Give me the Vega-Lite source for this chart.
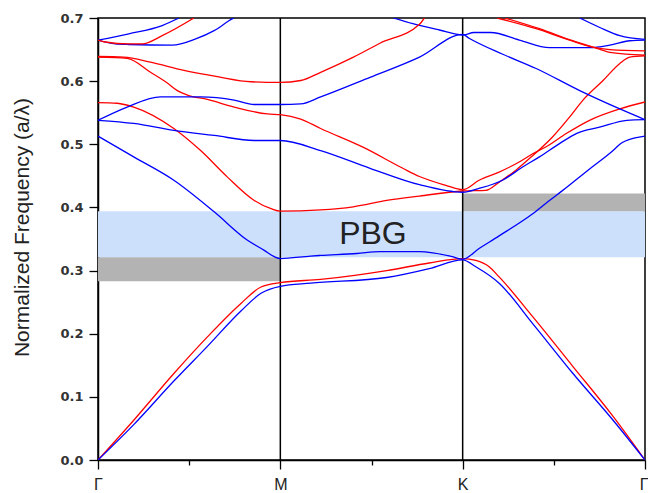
{
  "$schema": "https://vega.github.io/schema/vega-lite/v6.json",
  "width": 547,
  "height": 442,
  "autosize": "none",
  "padding": {"left": 98, "top": 18, "right": 3, "bottom": 33},
  "background": "white",
  "config": {
    "view": {"stroke": "black", "strokeWidth": 1.5},
    "axis": {"grid": false, "domainColor": "black", "domainWidth": 1.5, "tickColor": "black", "tickWidth": 1.3}
  },
  "resolve": {"scale": {"color": "independent"}},
  "datasets": {
    "bands": [
      {"x": 0, "x2": 3, "y": 0.321, "y2": 0.394, "k": "pbg"},
      {"x": 0, "x2": 1, "y": 0.283, "y2": 0.321, "k": "g"},
      {"x": 2, "x2": 3, "y": 0.394, "y2": 0.422, "k": "g"}
    ],
    "vlines": [{"x": 1}, {"x": 2}],
    "label": [{"x": 1.508, "y": 0.3426, "t": "PBG"}],
    "lines": [
      {"b":"r1","p":"r","x":0,"y":0},{"b":"r1","p":"r","x":0.196,"y":0.063},{"b":"r1","p":"r","x":0.416,"y":0.137},{"b":"r1","p":"r","x":0.6,"y":0.195},{"b":"r1","p":"r","x":0.784,"y":0.248},{"b":"r1","p":"r","x":0.894,"y":0.274},{"b":"r1","p":"r","x":1.0,"y":0.281},{"b":"r1","p":"r","x":1.221,"y":0.286},{"b":"r1","p":"r","x":1.583,"y":0.3},{"b":"r1","p":"r","x":1.817,"y":0.312},{"b":"r1","p":"r","x":2.0,"y":0.319},{"b":"r1","p":"r","x":2.072,"y":0.316},{"b":"r1","p":"r","x":2.145,"y":0.306},{"b":"r1","p":"r","x":2.2,"y":0.29},{"b":"r1","p":"r","x":2.384,"y":0.227},{"b":"r1","p":"r","x":2.605,"y":0.148},{"b":"r1","p":"r","x":2.825,"y":0.069},{"b":"r1","p":"r","x":3.0,"y":0.0},
      {"b":"b1","p":"b","x":0,"y":0},{"b":"b1","p":"b","x":0.196,"y":0.056},{"b":"b1","p":"b","x":0.416,"y":0.125},{"b":"b1","p":"b","x":0.6,"y":0.18},{"b":"b1","p":"b","x":0.784,"y":0.236},{"b":"b1","p":"b","x":0.894,"y":0.264},{"b":"b1","p":"b","x":1.0,"y":0.275},{"b":"b1","p":"b","x":1.166,"y":0.28},{"b":"b1","p":"b","x":1.583,"y":0.289},{"b":"b1","p":"b","x":1.817,"y":0.303},{"b":"b1","p":"b","x":2.0,"y":0.317},{"b":"b1","p":"b","x":2.072,"y":0.306},{"b":"b1","p":"b","x":2.2,"y":0.28},{"b":"b1","p":"b","x":2.384,"y":0.216},{"b":"b1","p":"b","x":2.605,"y":0.137},{"b":"b1","p":"b","x":2.825,"y":0.063},{"b":"b1","p":"b","x":3.0,"y":0.0},
      {"b":"b2","p":"b","x":0,"y":0.513},{"b":"b2","p":"b","x":0.196,"y":0.48},{"b":"b2","p":"b","x":0.416,"y":0.443},{"b":"b2","p":"b","x":0.637,"y":0.393},{"b":"b2","p":"b","x":0.82,"y":0.348},{"b":"b2","p":"b","x":0.912,"y":0.332},{"b":"b2","p":"b","x":0.967,"y":0.322},{"b":"b2","p":"b","x":1.0,"y":0.319},{"b":"b2","p":"b","x":1.166,"y":0.323},{"b":"b2","p":"b","x":1.221,"y":0.324},{"b":"b2","p":"b","x":1.42,"y":0.327},{"b":"b2","p":"b","x":1.546,"y":0.33},{"b":"b2","p":"b","x":1.763,"y":0.33},{"b":"b2","p":"b","x":1.944,"y":0.322},{"b":"b2","p":"b","x":2.0,"y":0.318},{"b":"b2","p":"b","x":2.09,"y":0.335},{"b":"b2","p":"b","x":2.2,"y":0.355},{"b":"b2","p":"b","x":2.384,"y":0.39},{"b":"b2","p":"b","x":2.476,"y":0.411},{"b":"b2","p":"b","x":2.549,"y":0.427},{"b":"b2","p":"b","x":2.696,"y":0.461},{"b":"b2","p":"b","x":2.825,"y":0.49},{"b":"b2","p":"b","x":2.862,"y":0.5},{"b":"b2","p":"b","x":2.945,"y":0.51},{"b":"b2","p":"b","x":3.0,"y":0.513},
      {"b":"r2","p":"r","x":0,"y":0.566},{"b":"r2","p":"r","x":0.105,"y":0.565},{"b":"r2","p":"r","x":0.196,"y":0.559},{"b":"r2","p":"r","x":0.416,"y":0.525},{"b":"r2","p":"r","x":0.563,"y":0.49},{"b":"r2","p":"r","x":0.71,"y":0.448},{"b":"r2","p":"r","x":0.857,"y":0.411},{"b":"r2","p":"r","x":0.949,"y":0.398},{"b":"r2","p":"r","x":1.0,"y":0.394},{"b":"r2","p":"r","x":1.221,"y":0.396},{"b":"r2","p":"r","x":1.4,"y":0.401},{"b":"r2","p":"r","x":1.583,"y":0.411},{"b":"r2","p":"r","x":1.763,"y":0.418},{"b":"r2","p":"r","x":2.0,"y":0.426},{"b":"r2","p":"r","x":2.127,"y":0.427},{"b":"r2","p":"r","x":2.2,"y":0.44},{"b":"r2","p":"r","x":2.292,"y":0.459},{"b":"r2","p":"r","x":2.384,"y":0.482},{"b":"r2","p":"r","x":2.494,"y":0.512},{"b":"r2","p":"r","x":2.586,"y":0.543},{"b":"r2","p":"r","x":2.66,"y":0.57},{"b":"r2","p":"r","x":2.77,"y":0.601},{"b":"r2","p":"r","x":2.862,"y":0.628},{"b":"r2","p":"r","x":2.917,"y":0.638},{"b":"r2","p":"r","x":3.0,"y":0.64},
      {"b":"r3","p":"r","x":0,"y":0.638},{"b":"r3","p":"r","x":0.16,"y":0.636},{"b":"r3","p":"r","x":0.288,"y":0.614},{"b":"r3","p":"r","x":0.38,"y":0.597},{"b":"r3","p":"r","x":0.435,"y":0.585},{"b":"r3","p":"r","x":0.49,"y":0.578},{"b":"r3","p":"r","x":0.6,"y":0.571},{"b":"r3","p":"r","x":0.747,"y":0.559},{"b":"r3","p":"r","x":0.93,"y":0.548},{"b":"r3","p":"r","x":1.0,"y":0.547},{"b":"r3","p":"r","x":1.112,"y":0.54},{"b":"r3","p":"r","x":1.221,"y":0.525},{"b":"r3","p":"r","x":1.456,"y":0.495},{"b":"r3","p":"r","x":1.672,"y":0.462},{"b":"r3","p":"r","x":1.763,"y":0.449},{"b":"r3","p":"r","x":1.908,"y":0.435},{"b":"r3","p":"r","x":2.0,"y":0.428},{"b":"r3","p":"r","x":2.09,"y":0.443},{"b":"r3","p":"r","x":2.2,"y":0.456},{"b":"r3","p":"r","x":2.31,"y":0.472},{"b":"r3","p":"r","x":2.384,"y":0.485},{"b":"r3","p":"r","x":2.458,"y":0.496},{"b":"r3","p":"r","x":2.568,"y":0.517},{"b":"r3","p":"r","x":2.696,"y":0.538},{"b":"r3","p":"r","x":2.862,"y":0.556},{"b":"r3","p":"r","x":3.0,"y":0.567},
      {"b":"b3","p":"b","x":0,"y":0.538},{"b":"b3","p":"b","x":0.196,"y":0.533},{"b":"b3","p":"b","x":0.416,"y":0.522},{"b":"b3","p":"b","x":0.637,"y":0.514},{"b":"b3","p":"b","x":0.857,"y":0.506},{"b":"b3","p":"b","x":1.0,"y":0.506},{"b":"b3","p":"b","x":1.221,"y":0.49},{"b":"b3","p":"b","x":1.492,"y":0.462},{"b":"b3","p":"b","x":1.763,"y":0.436},{"b":"b3","p":"b","x":2.0,"y":0.424},{"b":"b3","p":"b","x":2.09,"y":0.43},{"b":"b3","p":"b","x":2.218,"y":0.443},{"b":"b3","p":"b","x":2.329,"y":0.464},{"b":"b3","p":"b","x":2.421,"y":0.48},{"b":"b3","p":"b","x":2.531,"y":0.501},{"b":"b3","p":"b","x":2.623,"y":0.517},{"b":"b3","p":"b","x":2.751,"y":0.527},{"b":"b3","p":"b","x":2.901,"y":0.538},{"b":"b3","p":"b","x":3.0,"y":0.539},
      {"b":"b4","p":"b","x":0,"y":0.538},{"b":"b4","p":"b","x":0.16,"y":0.559},{"b":"b4","p":"b","x":0.343,"y":0.575},{"b":"b4","p":"b","x":0.563,"y":0.575},{"b":"b4","p":"b","x":0.747,"y":0.57},{"b":"b4","p":"b","x":0.857,"y":0.563},{"b":"b4","p":"b","x":1.0,"y":0.563},{"b":"b4","p":"b","x":1.112,"y":0.564},{"b":"b4","p":"b","x":1.221,"y":0.575},{"b":"b4","p":"b","x":1.492,"y":0.606},{"b":"b4","p":"b","x":1.763,"y":0.638},{"b":"b4","p":"b","x":2.0,"y":0.674},{"b":"b4","p":"b","x":2.035,"y":0.668},{"b":"b4","p":"b","x":2.217,"y":0.643},{"b":"b4","p":"b","x":2.403,"y":0.62},{"b":"b4","p":"b","x":2.642,"y":0.585},{"b":"b4","p":"b","x":2.862,"y":0.556},{"b":"b4","p":"b","x":3.0,"y":0.539},
      {"b":"b7","p":"b","x":1.619,"y":0.7},{"b":"b7","p":"b","x":1.727,"y":0.691},{"b":"b7","p":"b","x":1.872,"y":0.681},{"b":"b7","p":"b","x":2.0,"y":0.673},{"b":"b7","p":"b","x":2.062,"y":0.677},{"b":"b7","p":"b","x":2.154,"y":0.677},{"b":"b7","p":"b","x":2.311,"y":0.665},{"b":"b7","p":"b","x":2.476,"y":0.653},{"b":"b7","p":"b","x":2.697,"y":0.653},{"b":"b7","p":"b","x":2.807,"y":0.657},{"b":"b7","p":"b","x":2.917,"y":0.664},{"b":"b7","p":"b","x":3.0,"y":0.665},
      {"b":"b8","p":"b","x":2.642,"y":0.7},{"b":"b8","p":"b","x":2.752,"y":0.685},{"b":"b8","p":"b","x":2.862,"y":0.672},{"b":"b8","p":"b","x":3.0,"y":0.666},
      {"b":"ra","p":"r","x":2.189,"y":0.7},{"b":"ra","p":"r","x":2.403,"y":0.683},{"b":"ra","p":"r","x":2.586,"y":0.665},{"b":"ra","p":"r","x":2.713,"y":0.654},{"b":"ra","p":"r","x":2.807,"y":0.65},{"b":"ra","p":"r","x":3.0,"y":0.648},
      {"b":"rb","p":"r","x":2.233,"y":0.7},{"b":"rb","p":"r","x":2.421,"y":0.683},{"b":"rb","p":"r","x":2.603,"y":0.664},{"b":"rb","p":"r","x":2.735,"y":0.652},{"b":"rb","p":"r","x":2.818,"y":0.645},{"b":"rb","p":"r","x":3.0,"y":0.641},
      {"b":"b5","p":"b","x":0,"y":0.665},{"b":"b5","p":"b","x":0.169,"y":0.675},{"b":"b5","p":"b","x":0.352,"y":0.688},{"b":"b5","p":"b","x":0.444,"y":0.7},
      {"b":"b6","p":"b","x":0,"y":0.665},{"b":"b6","p":"b","x":0.095,"y":0.659},{"b":"b6","p":"b","x":0.169,"y":0.658},{"b":"b6","p":"b","x":0.407,"y":0.657},{"b":"b6","p":"b","x":0.536,"y":0.667},{"b":"b6","p":"b","x":0.637,"y":0.68},{"b":"b6","p":"b","x":0.738,"y":0.699},{"b":"b6","p":"b","x":0.745,"y":0.7},
      {"b":"r5","p":"r","x":0,"y":0.665},{"b":"r5","p":"r","x":0.04,"y":0.662},{"b":"r5","p":"r","x":0.169,"y":0.659},{"b":"r5","p":"r","x":0.242,"y":0.659},{"b":"r5","p":"r","x":0.352,"y":0.672},{"b":"r5","p":"r","x":0.526,"y":0.7},
      {"b":"r4","p":"r","x":0,"y":0.639},{"b":"r4","p":"r","x":0.141,"y":0.638},{"b":"r4","p":"r","x":0.288,"y":0.63},{"b":"r4","p":"r","x":0.471,"y":0.617},{"b":"r4","p":"r","x":0.655,"y":0.607},{"b":"r4","p":"r","x":0.838,"y":0.599},{"b":"r4","p":"r","x":1.0,"y":0.598},{"b":"r4","p":"r","x":1.112,"y":0.601},{"b":"r4","p":"r","x":1.221,"y":0.614},{"b":"r4","p":"r","x":1.401,"y":0.638},{"b":"r4","p":"r","x":1.546,"y":0.66},{"b":"r4","p":"r","x":1.763,"y":0.69},{"b":"r4","p":"r","x":1.79,"y":0.7}
    ]
  },
  "layer": [
    {
      "data": {"name": "bands"},
      "mark": {"type": "rect"},
      "encoding": {
        "x": {"field": "x", "type": "quantitative", "scale": {"domain": [0, 3], "nice": false, "zero": false}, "title": null},
        "x2": {"field": "x2"},
        "y": {"field": "y", "type": "quantitative", "scale": {"domain": [0, 0.7], "nice": false}, "title": "Normalized Frequency (a/λ)"},
        "y2": {"field": "y2"},
        "color": {"field": "k", "type": "nominal", "scale": {"domain": ["pbg", "g"], "range": ["#cce0fc", "#b3b3b3"]}, "legend": null}
      }
    },
    {
      "data": {"name": "vlines"},
      "mark": {"type": "rule", "color": "black", "strokeWidth": 1.5},
      "encoding": {
        "x": {"field": "x", "type": "quantitative", "title": null}
      }
    },
    {
      "data": {"name": "lines"},
      "mark": {"type": "line", "strokeWidth": 1.3, "clip": true, "interpolate": "monotone"},
      "encoding": {
        "x": {
          "field": "x", "type": "quantitative", "title": null,
          "axis": {
            "values": [0, 0.5, 1, 1.5, 2, 2.5, 3],
            "labelExpr": "datum.value == 0 || datum.value == 3 ? 'Γ' : datum.value == 1 ? 'M' : datum.value == 2 ? 'K' : ''",
            "tickSize": {"condition": {"test": "datum.value % 1 == 0", "value": 9}, "value": 5},
            "labelAlign": {"condition": {"test": "datum.value == 3", "value": "right"}, "value": "center"},
            "labelOffset": {"condition": {"test": "datum.value == 3", "value": 3}, "value": 0},
            "labelFont": "Liberation Sans", "labelFontSize": 16, "labelColor": "#222",
            "labelPadding": 7, "labelOverlap": false, "labelFlush": false, "labelBound": false
          }
        },
        "y": {
          "field": "y", "type": "quantitative", "title": "Normalized Frequency (a/λ)",
          "axis": {
            "values": [0, 0.05, 0.1, 0.15, 0.2, 0.25, 0.3, 0.35, 0.4, 0.45, 0.5, 0.55, 0.6, 0.65, 0.7],
            "labelExpr": "round(datum.value * 100) % 10 == 0 ? format(datum.value, '.1f') : ''",
            "tickSize": {"condition": {"test": "round(datum.value * 100) % 10 == 0", "value": 9}, "value": 4},
            "labelFont": "DejaVu Sans", "labelFontWeight": "bold", "labelFontSize": 13, "labelColor": "#333",
            "labelPadding": 6, "labelOverlap": false, "labelFlush": false, "labelBound": false,
            "titleFont": "Liberation Sans", "titleFontSize": 21, "titleFontWeight": "normal", "titleColor": "#222",
            "titleAngle": 270, "titleX": -76, "titleY": 209, "titleAlign": "center", "titleBaseline": "middle"
          }
        },
        "detail": {"field": "b", "type": "nominal"},
        "color": {"field": "p", "type": "nominal", "scale": {"domain": ["r", "b"], "range": ["#ff0000", "#0000ff"]}, "legend": null}
      }
    },
    {
      "data": {"name": "label"},
      "mark": {"type": "text", "font": "Liberation Sans", "fontSize": 32, "color": "#222", "align": "center", "baseline": "alphabetic"},
      "encoding": {
        "x": {"field": "x", "type": "quantitative", "title": null},
        "y": {"field": "y", "type": "quantitative", "title": "Normalized Frequency (a/λ)"},
        "text": {"field": "t"}
      }
    }
  ]
}
